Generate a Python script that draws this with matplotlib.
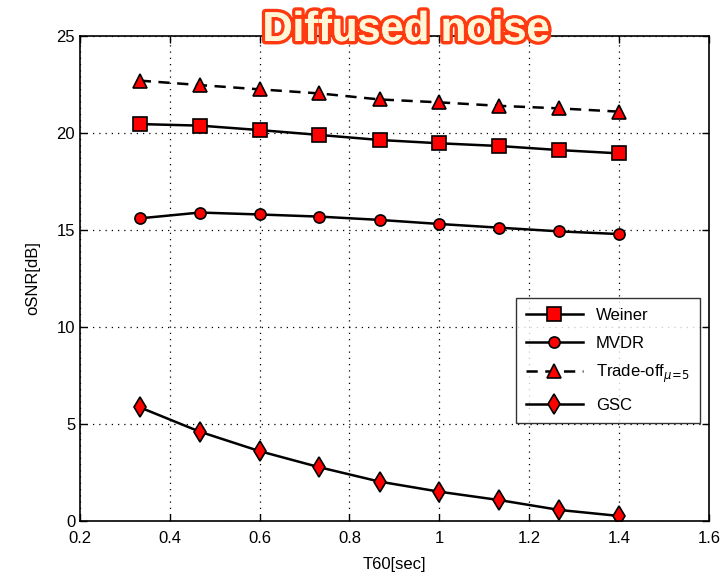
import matplotlib
matplotlib.use("Agg")
import matplotlib.pyplot as plt
import matplotlib.patheffects as pe

plt.rcParams['font.family'] = ['Liberation Sans', 'DejaVu Sans']

t60 = [0.333, 0.467, 0.600, 0.733, 0.867, 1.000, 1.133, 1.267, 1.400]
weiner = [20.46, 20.38, 20.15, 19.90, 19.64, 19.47, 19.33, 19.12, 18.95]
mvdr = [15.60, 15.90, 15.80, 15.69, 15.52, 15.31, 15.12, 14.93, 14.79]
tradeoff = [22.70, 22.47, 22.25, 22.04, 21.73, 21.58, 21.40, 21.27, 21.10]
gsc = [5.86, 4.60, 3.60, 2.77, 2.03, 1.51, 1.08, 0.57, 0.26]

xticks = [0.2, 0.4, 0.6, 0.8, 1.0, 1.2, 1.4, 1.6]
xticklabels = ['0.2', '0.4', '0.6', '0.8', '1', '1.2', '1.4', '1.6']
yticks = [0, 5, 10, 15, 20, 25]

fig = plt.figure(figsize=(7.24, 5.76), dpi=100)
ax = fig.add_axes([0.1105, 0.0955, 0.8685, 0.842])

common = dict(color='black', lw=1.8, mfc='red', mec='black', mew=1.2)
ax.plot(t60, weiner, marker='s', ms=10, label='Weiner', **common)
ax.plot(t60, mvdr, marker='o', ms=8, label='MVDR', **common)
ax.plot(t60, tradeoff, marker='^', ms=9.5, ls=(0, (4.5, 3)), label='Trade-off$_{\\mu\\!=\\!5}$', **common)
ax.plot(t60, gsc, marker='d', ms=10, label='GSC', **common)

ax.set_xlim(0.2, 1.6)
ax.set_ylim(0, 25)
ax.set_xticks(xticks)
ax.set_xticklabels(xticklabels)
ax.set_yticks(yticks)
ax.tick_params(direction='in', top=True, right=True, labelsize=12, length=5, width=1)
ax.tick_params(axis='x', pad=7)
ax.grid(True, ls=(0, (1, 4)), color='black', lw=0.9)
for s in ax.spines.values():
    s.set_linewidth(1.2)

ax.set_xlabel('T60[sec]', fontsize=12, labelpad=8)
ax.set_ylabel('oSNR[dB]', fontsize=12, labelpad=12)

leg = ax.legend(loc='lower right', bbox_to_anchor=(0.986, 0.2025), borderaxespad=0,
                fontsize=12, frameon=True, fancybox=False, edgecolor='black',
                handlelength=3.4, borderpad=0.6, labelspacing=0.75)
leg.get_frame().set_linewidth(1.0)

fig.text(0.561, 0.948, 'Diffused noise', ha='center', va='center', fontsize=30,
         fontweight='bold', color='#fff6d8',
         path_effects=[pe.withStroke(linewidth=5, foreground='#ff3a10'),
                       pe.Normal()])

fig.savefig('out.png', dpi=100)
